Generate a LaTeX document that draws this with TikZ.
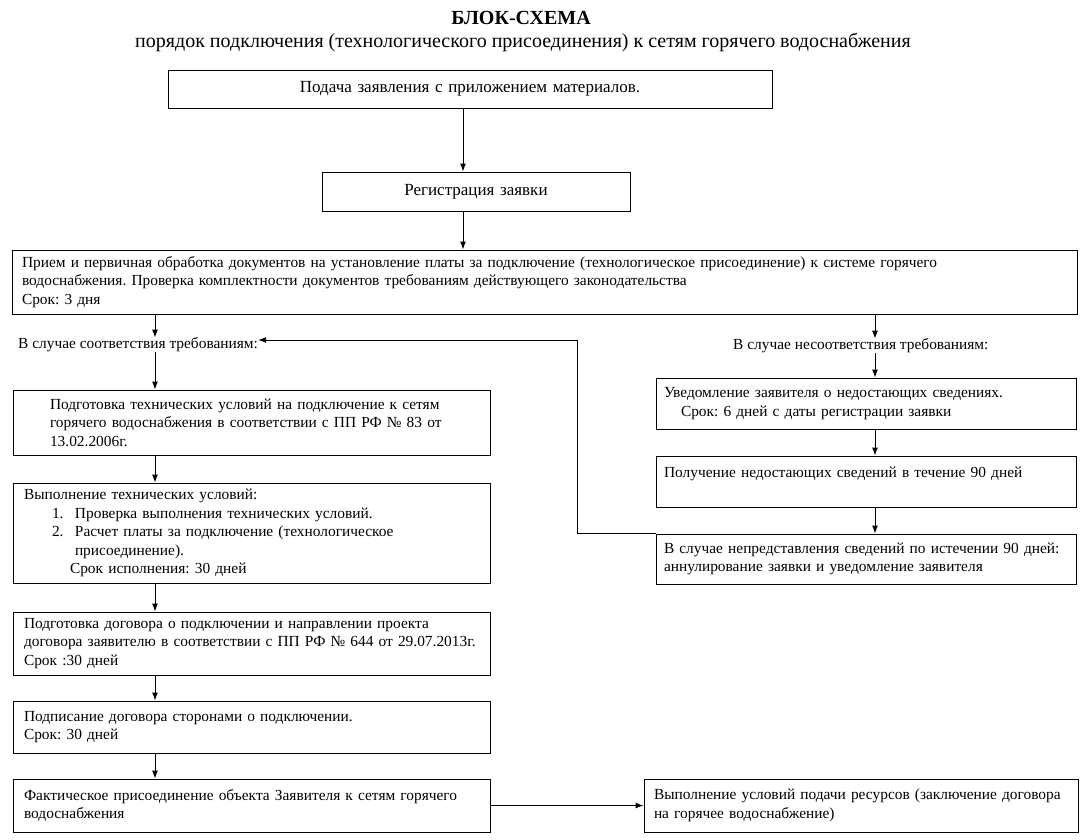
\documentclass[tikz,border=0pt]{standalone}
\usepackage{fontspec}
\setmainfont{Liberation Serif}
\usetikzlibrary{arrows.meta,positioning}
\frenchspacing
\newcommand{\boxfont}{\fontsize{15.4}{18.5}\selectfont}
\newcommand{\bigboxfont}{\fontsize{17}{19}\selectfont}
\newcommand{\itm}[1]{\hspace*{28pt}\makebox[23pt][l]{#1}}
\tikzset{
  flowbox/.style={draw, line width=1pt, align=left, inner ysep=2pt,
    inner xsep=11pt, text width=455pt, font=\boxfont},
  midbox/.style={flowbox, align=center, inner xsep=5pt, font=\bigboxfont},
  rightbox/.style={flowbox, inner xsep=8pt, text width=404pt},
  note/.style={inner sep=0pt, anchor=west, font=\boxfont},
  arr/.style={-{Latex[length=8pt,width=6pt]}, line width=1pt}
}
\begin{document}
\begin{tikzpicture}[x=1pt, y=-1pt]
  \useasboundingbox (0,0) rectangle (1091,839);
  \node[font=\fontsize{20}{24}\selectfont\bfseries] (title) at (521,18) {БЛОК-СХЕМА};
  \node[font=\fontsize{20}{24}\selectfont] (subtitle) at (523,42)
    {порядок подключения (технологического присоединения) к сетям горячего водоснабжения};
  % upper part
  \coordinate (mid) at (463,0);
  \coordinate (lsp) at (155,0);
  \coordinate (rsp) at (875,0);
  \node[midbox, text width=594pt, minimum height=38pt] (apply) at (470,89)
    {Подача заявления с приложением материалов.};
  \node[midbox, text width=298pt, minimum height=39pt] (register) at (476,191.5)
    {Регистрация заявки};
  \node[flowbox, inner xsep=10pt, text width=1045pt, minimum height=64pt] (check) at (544.5,282)
    {Прием и первичная обработка документов на установление платы за подключение (технологическое присоединение) к системе горячего\\
     водоснабжения. Проверка комплектности документов требованиям действующего законодательства\\
     Срок: 3 дня};
  \node[note] (yes) at (18,345) {В случае соответствия требованиям:};
  \node[note] (no) at (733,346) {В случае несоответствия требованиям:};
  % left column
  \node[flowbox, inner xsep=37pt, text width=403pt, minimum height=65pt] (tu) at (251.5,422.5)
    {Подготовка технических условий на подключение к сетям\\
     горячего водоснабжения в соответствии с ПП РФ № 83 от\\
     13.02.2006г.};
  \node[flowbox, minimum height=100pt, below=27pt of tu] (exec)
    {Выполнение технических условий:\\
     \itm{1.}Проверка выполнения технических условий.\\
     \itm{2.}Расчет платы за подключение (технологическое\\
     \hspace*{51pt}присоединение).\\
     \hspace*{46pt}Срок исполнения: 30 дней};
  \node[flowbox, minimum height=63pt, below=28pt of exec] (contract)
    {Подготовка договора о подключении и направлении проекта\\
     договора заявителю в соответствии с ПП РФ № 644 от 29.07.2013г.\\
     Срок :30 дней};
  \node[flowbox, minimum height=52pt, below=25pt of contract] (sign)
    {Подписание договора сторонами о подключении.\\
     Срок: 30 дней};
  \node[flowbox, minimum height=53pt, below=25pt of sign] (connect)
    {Фактическое присоединение объекта Заявителя к сетям горячего\\
     водоснабжения};
  \node[flowbox, inner xsep=10pt, text width=414pt, minimum height=53pt, right=153pt of connect] (supply)
    {Выполнение условий подачи ресурсов (заключение договора\\
     на горячее водоснабжение)};
  % right column
  \node[rightbox, minimum height=51pt] (notify) at (866,403.5)
    {Уведомление заявителя о недостающих сведениях.\\
     \hspace*{17pt}Срок: 6 дней с даты регистрации заявки};
  \node[rightbox, minimum height=51pt, below=26pt of notify] (receive)
    {Получение недостающих сведений в течение 90 дней\\ \mbox{}};
  \node[rightbox, minimum height=50pt, below=26pt of receive] (cancel)
    {В случае непредставления сведений по истечении 90 дней:\\
     аннулирование заявки и уведомление заявителя};
  % connectors
  \draw[arr] (apply.south -| mid) -- (register.north -| mid);
  \draw[arr] (register.south -| mid) -- (check.north -| mid);
  \draw[arr] (check.south -| lsp) -- (yes.north -| lsp);
  \draw[arr] (check.south -| rsp) -- (no.north -| rsp);
  \draw[arr] (yes.south -| lsp) -- (tu.north -| lsp);
  \draw[arr] (no.south -| rsp) -- (notify.north -| rsp);
  \draw[arr] (tu.south -| lsp) -- (exec.north -| lsp);
  \draw[arr] (exec.south -| lsp) -- (contract.north -| lsp);
  \draw[arr] (contract.south -| lsp) -- (sign.north -| lsp);
  \draw[arr] (sign.south -| lsp) -- (connect.north -| lsp);
  \draw[arr] (connect) -- (supply);
  \draw[arr] (notify.south -| rsp) -- (receive.north -| rsp);
  \draw[arr] (receive.south -| rsp) -- (cancel.north -| rsp);
  \draw[arr] (cancel.north west) -- ++(-78,0) |- ([yshift=5pt]yes.east);
\end{tikzpicture}
\end{document}
